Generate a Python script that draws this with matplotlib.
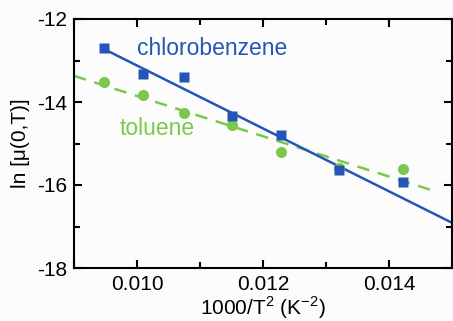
import matplotlib
matplotlib.use("Agg")
import matplotlib.pyplot as plt
from matplotlib.ticker import MultipleLocator

plt.rcParams['font.family'] = ['Liberation Sans', 'DejaVu Sans']
plt.rcParams['mathtext.fontset'] = 'custom'
plt.rcParams['mathtext.rm'] = 'Liberation Sans'

# data
x_chloro = [0.00947, 0.01009, 0.01075, 0.01150, 0.01229, 0.01321, 0.01423]
y_chloro = [-12.70, -13.33, -13.40, -14.34, -14.80, -15.64, -15.93]
x_tol = [0.00947, 0.01009, 0.01075, 0.01150, 0.01229, 0.01321, 0.01423]
y_tol = [-13.52, -13.83, -14.27, -14.55, -15.20, -15.60, -15.61]
fit_chloro_x = [0.00947, 0.0150]
fit_chloro_y = [-12.72, -16.91]
fit_tol_x = [0.0090, 0.01475]
fit_tol_y = [-13.37, -16.16]

blue = '#2356b8'
green = '#7cc84c'

fig = plt.figure(figsize=(4.53, 3.21), dpi=100)
fig.patch.set_facecolor('#fcfcfc')
ax = fig.add_axes([74/453, 1-268/321, (452-74)/453, (268-19)/321])
ax.set_facecolor('#fcfcfc')

ax.plot(fit_tol_x, fit_tol_y, '--', color=green, lw=1.8, dashes=(5, 3.5))
ax.plot(fit_chloro_x, fit_chloro_y, '-', color=blue, lw=1.8)
ax.plot(x_tol, y_tol, 'o', color=green, ms=8, mec='none')
ax.plot(x_chloro, y_chloro, 's', color=blue, ms=7.5, mec='none')

ax.text(0.01000, -12.72, 'chlorobenzene', color=blue, fontsize=16.5, va='center', ha='left')
ax.text(0.00973, -14.63, 'toluene', color=green, fontsize=16.5, va='center', ha='left')

ax.set_xlim(0.009, 0.015)
ax.set_ylim(-18, -12)
ax.xaxis.set_minor_locator(MultipleLocator(0.001))
ax.yaxis.set_minor_locator(MultipleLocator(1))
ax.set_xticks([0.010, 0.012, 0.014])
ax.set_xticklabels(['0.010', '0.012', '0.014'])
ax.set_yticks([-18, -16, -14, -12])
ax.set_yticklabels(['-18', '-16', '-14', '-12'])
ax.tick_params(which='both', direction='in', top=True, right=True, labelsize=15, width=1.5)
ax.tick_params(which='major', length=6, pad=5)
ax.tick_params(which='minor', length=4)
for s in ax.spines.values():
    s.set_linewidth(1.5)

ax.set_xlabel('1000/T$^{2}$ (K$^{-2}$)', fontsize=15, labelpad=0)
ax.set_ylabel('ln [μ(0,T)]', fontsize=15, labelpad=5)

fig.savefig('out.png', dpi=100, facecolor=fig.get_facecolor())
